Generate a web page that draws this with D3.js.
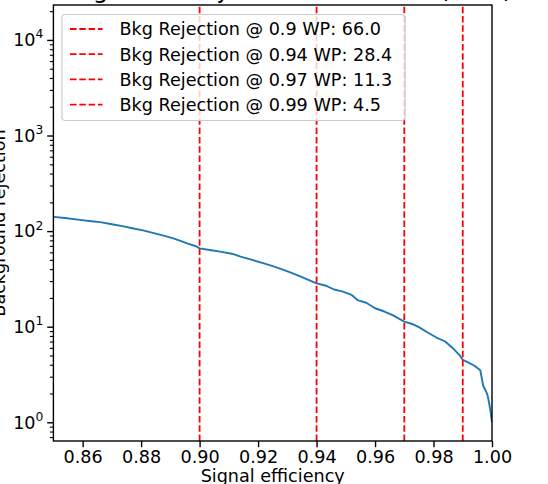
<!DOCTYPE html>
<html>
<head>
<meta charset="utf-8">
<script src="https://cdn.jsdelivr.net/npm/d3@7"></script>
<style>
  html, body { margin: 0; padding: 0; background: #fff; }
  svg { display: block; font-family: "DejaVu Sans", sans-serif; }
</style>
</head>
<body>
<svg id="chart" width="548" height="484"></svg>
<script>
// ---- data ----
const effs = [0.850, 0.854, 0.859, 0.863, 0.866, 0.870, 0.874, 0.877, 0.881, 0.884,
              0.888, 0.891, 0.893, 0.896, 0.899, 0.900, 0.904, 0.907, 0.911, 0.914,
              0.918, 0.922, 0.925, 0.928, 0.931, 0.934, 0.937, 0.940, 0.943, 0.946,
              0.949, 0.952, 0.954, 0.957, 0.960, 0.963, 0.966, 0.970, 0.973, 0.975,
              0.978, 0.981, 0.984, 0.987, 0.989, 0.990, 0.992, 0.994, 0.996, 0.9965,
              0.997, 0.998, 0.9985, 0.999, 0.9995, 1.000];
const rejs = [141, 137, 131, 127, 124, 118, 112, 107, 101, 96,
              89, 84, 80, 74, 69, 66, 63, 61, 58, 54,
              50, 46, 43, 40, 37, 34, 31, 28.4, 27, 24.5,
              23.3, 21.5, 19.0, 17.8, 15.6, 14.5, 13.2, 11.3, 10.6, 9.9,
              8.7, 7.7, 7.0, 5.8, 5.0, 4.5, 4.2, 3.9, 3.5, 2.9,
              2.4, 2.1, 1.9, 1.6, 1.3, 1.0];
const wpEffs = [0.9, 0.94, 0.97, 0.99];
const wpRejs = [66.0, 28.4, 11.3, 4.5];
const xTickVals = [0.86, 0.88, 0.90, 0.92, 0.94, 0.96, 0.98, 1.00];
const yMajorExps = [0, 1, 2, 3, 4];
const titleText = "Background Rejection vs Eff. WP (ROC)";
const xLabelText = "Signal efficiency";
const yLabelText = "Background rejection";

// ---- layout ----
const L = 53.4, R = 492, T = 5, B = 441;
const svg = d3.select("#chart");
const x = d3.scaleLinear().domain([0.85, 1.0]).range([L, R]);
const y = d3.scaleLog().domain([0.637, 23200]).range([B, T]);
const fs = 17.6;

// clip
svg.append("defs").append("clipPath").attr("id", "clip")
  .append("rect").attr("x", L).attr("y", T).attr("width", R - L).attr("height", B - T);

// curve
const pts = effs.map((e, i) => [e, rejs[i]]);
svg.append("path")
  .attr("clip-path", "url(#clip)")
  .attr("d", d3.line().x(d => x(d[0])).y(d => y(d[1]))(pts))
  .attr("fill", "none").attr("stroke", "#1f77b4").attr("stroke-width", 1.9)
  .attr("stroke-linejoin", "round");

// vertical WP lines
svg.append("g").selectAll("line").data(wpEffs).join("line")
  .attr("x1", d => x(d)).attr("x2", d => x(d))
  .attr("y1", B).attr("y2", T)
  .attr("stroke", "red").attr("stroke-width", 1.8)
  .attr("stroke-dasharray", "6.5,2.8");

// x axis
const xAxis = d3.axisBottom(x).tickValues(xTickVals).tickFormat(d3.format(".2f"))
  .tickSize(6.2).tickPadding(3);
const gx = svg.append("g").attr("transform", `translate(0,${B})`).call(xAxis);
gx.select(".domain").remove();
gx.selectAll("line").attr("stroke", "#000").attr("stroke-width", 1.4);
gx.selectAll("text").attr("font-size", fs).attr("font-family", "DejaVu Sans").attr("fill", "#000");

// y axis major
const yMajorVals = yMajorExps.map(e => Math.pow(10, e));
const gy = svg.append("g").attr("transform", `translate(${L},0)`)
  .call(d3.axisLeft(y).tickValues(yMajorVals).tickFormat("").tickSize(6.2));
gy.select(".domain").remove();
gy.selectAll("line").attr("stroke", "#000").attr("stroke-width", 1.4);

// y minor ticks
const minorVals = [];
for (let e = -1; e <= 4; e++) for (let m = 2; m <= 9; m++) {
  const v = m * Math.pow(10, e);
  if (v >= y.domain()[0] && v <= y.domain()[1]) minorVals.push(v);
}
const gym = svg.append("g").attr("transform", `translate(${L},0)`)
  .call(d3.axisLeft(y).tickValues(minorVals).tickFormat("").tickSize(3.5));
gym.select(".domain").remove();
gym.selectAll("line").attr("stroke", "#000").attr("stroke-width", 1.1);

// y labels 10^k
const yl = svg.append("g").selectAll("text").data(yMajorExps).join("text")
  .attr("x", L - 10).attr("y", d => y(Math.pow(10, d)) + 6.3)
  .attr("text-anchor", "end").attr("font-size", fs).attr("fill", "#000");
yl.append("tspan").text("10");
yl.append("tspan").attr("dy", -7.8).attr("font-size", 12.3).text(d => d);

// spines
svg.append("rect").attr("x", L).attr("y", T).attr("width", R - L).attr("height", B - T)
  .attr("fill", "none").attr("stroke", "#000").attr("stroke-width", 1.4);

// axis labels & title
svg.append("text").attr("x", (L + R) / 2).attr("y", 481.5).attr("text-anchor", "middle")
  .attr("font-size", fs).attr("fill", "#000").text(xLabelText);
svg.append("text").attr("transform", `translate(5,${(T + B) / 2}) rotate(-90)`)
  .attr("text-anchor", "middle").attr("font-size", fs).attr("fill", "#000").text(yLabelText);
svg.append("text").attr("x", (L + R) / 2).attr("y", -2).attr("text-anchor", "middle")
  .attr("font-size", 24.6).attr("fill", "#000").text(titleText);

// legend
const lg = svg.append("g");
lg.append("rect").attr("x", 62).attr("y", 14.5).attr("width", 343).attr("height", 106)
  .attr("rx", 3.5).attr("fill", "#fff").attr("fill-opacity", 0.8)
  .attr("stroke", "#cccccc").attr("stroke-width", 1.2);
const rows = lg.selectAll("g.row").data(wpEffs).join("g").attr("class", "row")
  .attr("transform", (d, i) => `translate(0,${29 + i * 25.2})`);
rows.append("line").attr("x1", 70).attr("x2", 102.6).attr("y1", 0).attr("y2", 0)
  .attr("stroke", "red").attr("stroke-width", 1.8).attr("stroke-dasharray", "6.5,2.8");
rows.append("text").attr("x", 119.5).attr("y", 0).attr("dy", "0.36em")
  .attr("font-size", fs).attr("fill", "#000")
  .text((d, i) => `Bkg Rejection @ ${d} WP: ${wpRejs[i].toFixed(1)}`);
</script>
</body>
</html>
